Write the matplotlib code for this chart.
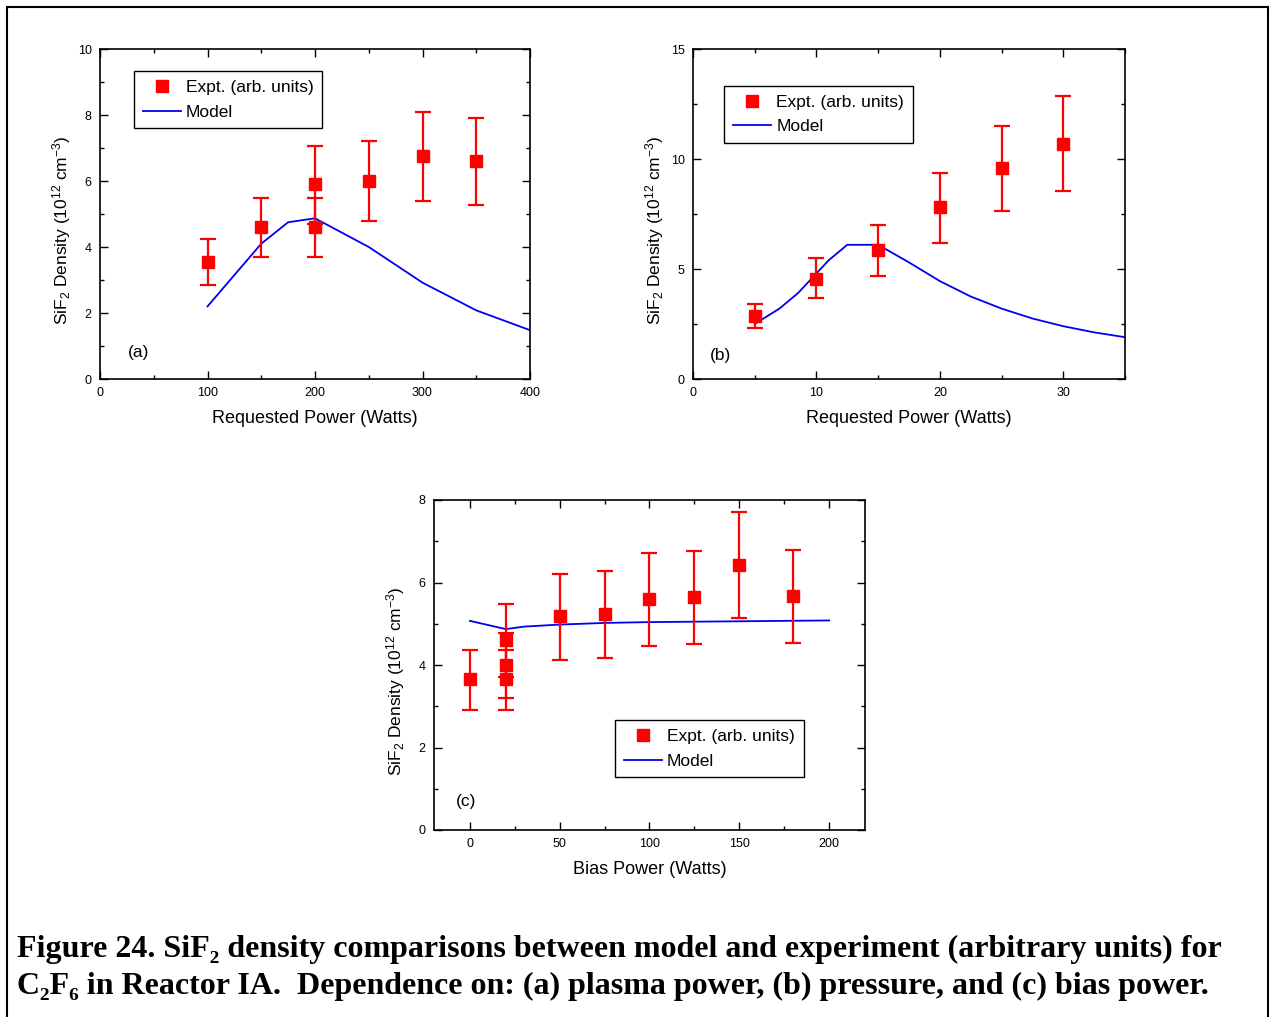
import matplotlib
matplotlib.use('Agg')
import matplotlib.pyplot as plt
from matplotlib.lines import Line2D
from matplotlib.patches import Rectangle
from matplotlib.ticker import MultipleLocator

plt.rcParams['font.family'] = ['Liberation Sans', 'DejaVu Sans']
plt.rcParams['mathtext.fontset'] = 'custom'
plt.rcParams['mathtext.rm'] = 'Liberation Sans'
plt.rcParams['mathtext.default'] = 'regular'

# ---- panel (a): plasma power
a_x = [100, 150, 200, 200, 250, 300, 350]
a_y = [3.55, 4.6, 5.9, 4.6, 6.0, 6.75, 6.6]
a_lo = [2.85, 3.7, 4.7, 3.7, 4.8, 5.4, 5.27]
a_hi = [4.25, 5.5, 7.05, 5.5, 7.2, 8.1, 7.9]
a_mx = [100, 150, 175, 200, 250, 300, 350, 400]
a_my = [2.2, 4.1, 4.75, 4.87, 4.0, 2.92, 2.08, 1.48]

# ---- panel (b): pressure
b_x = [5, 10, 15, 20, 25, 30]
b_y = [2.85, 4.55, 5.85, 7.8, 9.6, 10.7]
b_lo = [2.3, 3.7, 4.7, 6.2, 7.65, 8.55]
b_hi = [3.4, 5.5, 7.0, 9.35, 11.5, 12.85]
b_mx = [5, 7, 8.5, 10, 11, 12.5, 15, 17.5, 20, 22.5, 25, 27.5, 30, 32.5, 35]
b_my = [2.5, 3.2, 3.9, 4.8, 5.4, 6.1, 6.1, 5.3, 4.45, 3.75, 3.2, 2.75, 2.4, 2.12, 1.9]

# ---- panel (c): bias power
c_x = [0, 20, 20, 20, 50, 75, 100, 125, 150, 180]
c_y = [3.65, 4.6, 4.0, 3.65, 5.18, 5.24, 5.6, 5.65, 6.43, 5.68]
c_lo = [2.92, 3.7, 3.2, 2.92, 4.13, 4.18, 4.47, 4.51, 5.14, 4.54]
c_hi = [4.37, 5.48, 4.78, 4.37, 6.21, 6.28, 6.72, 6.77, 7.71, 6.8]
c_mx = [0, 20, 30, 50, 75, 100, 125, 150, 175, 200]
c_my = [5.07, 4.87, 4.93, 4.98, 5.02, 5.04, 5.05, 5.06, 5.07, 5.08]

ylab = 'SiF$_2$ Density (10$^{12}$ cm$^{-3}$)'

fig = plt.figure(figsize=(12.7, 10.17), dpi=100)

# borde externo
fig.add_artist(Rectangle((7 / 1270, -0.01), 1261 / 1270, 1.01 - 7 / 1017,
                         transform=fig.transFigure, fill=False,
                         edgecolor='black', linewidth=1.5))


def painel(pos, x, y, lo, hi, mx, my, xlim, ylim, xmaj, xmin, ymaj, ymin,
           xlabel, tag, tagpos, legpos):
    ax = fig.add_axes(pos)
    yerr = [[v - l for v, l in zip(y, lo)], [h - v for v, h in zip(y, hi)]]
    ax.plot(mx, my, color='#0000ee', linewidth=1.3, zorder=2)
    ax.errorbar(x, y, yerr=yerr, fmt='s', color='red', ecolor='red',
                markersize=8, elinewidth=1.6, capsize=5.5, capthick=1.6, zorder=3)
    ax.set_xlim(*xlim)
    ax.set_ylim(*ylim)
    ax.xaxis.set_major_locator(MultipleLocator(xmaj))
    ax.xaxis.set_minor_locator(MultipleLocator(xmin))
    ax.yaxis.set_major_locator(MultipleLocator(ymaj))
    ax.yaxis.set_minor_locator(MultipleLocator(ymin))
    ax.tick_params(which='both', direction='in', top=True, right=True,
                   labelsize=9, width=1, pad=6)
    ax.tick_params(which='major', length=6)
    ax.tick_params(which='minor', length=3)
    for s in ax.spines.values():
        s.set_linewidth(1.2)
    ax.set_xlabel(xlabel, fontsize=13, labelpad=8)
    ax.set_ylabel(ylab, fontsize=12.5)
    ax.yaxis.set_label_coords(-0.062, 0.45)
    ax.text(tagpos[0], tagpos[1], tag, transform=ax.transAxes, fontsize=12.5,
            ha='left', va='center')
    handles = [Line2D([], [], marker='s', color='red', linestyle='none', markersize=8),
               Line2D([], [], color='#0000ee', linewidth=1.3)]
    leg = ax.legend(handles, ['Expt. (arb. units)', 'Model'], loc='upper left',
                    bbox_to_anchor=legpos, fontsize=12.5, frameon=True,
                    fancybox=False, edgecolor='black', framealpha=1,
                    borderaxespad=0, borderpad=0.5, handlelength=2.2,
                    handletextpad=0.3, labelspacing=0.55)
    leg.get_frame().set_linewidth(1.0)
    return ax


painel([100 / 1270, 638 / 1017, 430 / 1270, 330 / 1017],
       a_x, a_y, a_lo, a_hi, a_mx, a_my, (0, 400), (0, 10), 100, 50, 2, 1,
       'Requested Power (Watts)', '(a)', (0.065, 0.08), (0.079, 0.933))

painel([693 / 1270, 638 / 1017, 432 / 1270, 330 / 1017],
       b_x, b_y, b_lo, b_hi, b_mx, b_my, (0, 35), (0, 15), 10, 5, 5, 2.5,
       'Requested Power (Watts)', '(b)', (0.04, 0.07), (0.072, 0.888))

painel([434 / 1270, 187 / 1017, 431 / 1270, 330 / 1017],
       c_x, c_y, c_lo, c_hi, c_mx, c_my, (-20, 220), (0, 8), 50, 25, 2, 1,
       'Bias Power (Watts)', '(c)', (0.05, 0.085), (0.42, 0.333))

cap_kw = dict(family=['Liberation Serif', 'DejaVu Serif'], fontweight='bold',
              fontsize=23, ha='left', va='baseline')
fig.text(17 / 1270, (1017 - 957) / 1017,
         'Figure 24. SiF\u2082 density comparisons between model and experiment (arbitrary units) for',
         **cap_kw)
fig.text(17 / 1270, (1017 - 994) / 1017,
         'C\u2082F\u2086 in Reactor IA.  Dependence on: (a) plasma power, (b) pressure, and (c) bias power.',
         **cap_kw)

fig.savefig('out.png', dpi=100)
